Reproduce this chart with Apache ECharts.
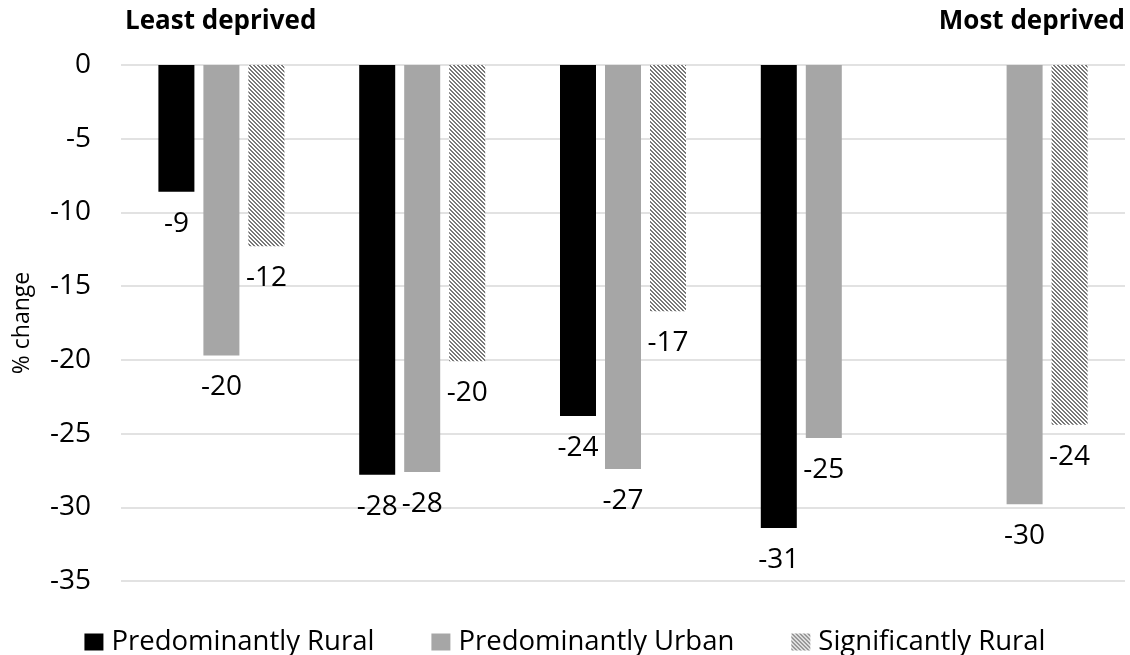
<!DOCTYPE html>
<html>
<head>
<meta charset="utf-8">
<script src="https://cdn.jsdelivr.net/npm/echarts@6/dist/echarts.min.js"></script>
<style>
  html, body { margin: 0; padding: 0; background: #fff; }
  #chart { width: 1130px; height: 655px; }
</style>
</head>
<body>
<div id="chart"></div>
<script>
// Deprivation quintiles, least to most deprived
const categories = ['Q1', 'Q2', 'Q3', 'Q4', 'Q5'];
const seriesNames = ['Predominantly Rural', 'Predominantly Urban', 'Significantly Rural'];
const predominantlyRural = [-8.6, -27.8, -23.8, -31.4, null];
const predominantlyUrban = [-19.7, -27.6, -27.4, -25.3, -29.8];
const significantlyRural = [-12.3, -20.1, -16.7, null, -24.4];
const yTicks = [0, -5, -10, -15, -20, -25, -30, -35];

const FONT = '"Open Sans", Lato, sans-serif';

// Dark downward-diagonal hatch fill
function hatchPattern() {
  const size = 4;
  const c = document.createElement('canvas');
  c.width = size; c.height = size;
  const ctx = c.getContext('2d');
  const img = ctx.createImageData(size, size);
  for (let y = 0; y < size; y++) {
    for (let x = 0; x < size; x++) {
      const d = ((x - y) % size + size) % size;
      const dark = d === 0 || d === 1;
      const v = dark ? 120 : 255;
      const i = (y * size + x) * 4;
      img.data[i] = v; img.data[i + 1] = v; img.data[i + 2] = v; img.data[i + 3] = 255;
    }
  }
  ctx.putImageData(img, 0, 0);
  return { image: c, repeat: 'repeat' };
}

const fills = ['#000000', '#a6a6a6', hatchPattern()];
const values = [predominantlyRural, predominantlyUrban, significantlyRural];

const chart = echarts.init(document.getElementById('chart'), null, { renderer: 'canvas' });

chart.setOption({
  animation: false,
  backgroundColor: '#ffffff',
  textStyle: { fontFamily: FONT },
  title: [
    { text: 'Least deprived', left: 120, top: 4,
      textStyle: { fontFamily: FONT, fontWeight: 'bold', fontSize: 26, color: '#000' } },
    { text: 'Most deprived', right: 0, top: 4,
      textStyle: { fontFamily: FONT, fontWeight: 'bold', fontSize: 26, color: '#000' } }
  ],
  grid: { left: 121, right: 5, top: 65, bottom: 74, containLabel: false },
  legend: {
    top: 623,
    left: 'center',
    itemWidth: 19,
    itemHeight: 17,
    itemGap: 57,
    icon: 'rect',
    textStyle: { fontFamily: FONT, fontSize: 27.5, color: '#000', padding: [0, 0, 0, 3] },
    data: seriesNames
  },
  xAxis: {
    type: 'category',
    data: categories,
    axisLine: { show: false },
    axisTick: { show: false },
    axisLabel: { show: false }
  },
  yAxis: {
    type: 'value',
    min: -35,
    max: 0,
    interval: 5,
    name: '% change',
    nameLocation: 'middle',
    nameRotate: 90,
    nameGap: 87,
    nameTextStyle: { fontFamily: FONT, fontSize: 23, color: '#000' },
    axisLine: { show: false },
    axisTick: { show: false },
    axisLabel: {
      fontFamily: FONT, fontSize: 28, color: '#000', margin: 30,
      formatter: v => yTicks.includes(v) ? String(v) : ''
    },
    splitLine: { lineStyle: { color: '#d9d9d9', width: 1.5 } }
  },
  series: seriesNames.map((name, i) => ({
    name,
    type: 'bar',
    data: values[i],
    barWidth: 36,
    barGap: '25%',
    itemStyle: { color: fills[i] },
    label: {
      show: true,
      position: 'bottom',
      distance: 18,
      fontFamily: FONT,
      fontSize: 28,
      color: '#000',
      formatter: p => p.value == null ? '' : String(Math.round(p.value))
    }
  }))
});
</script>
</body>
</html>
